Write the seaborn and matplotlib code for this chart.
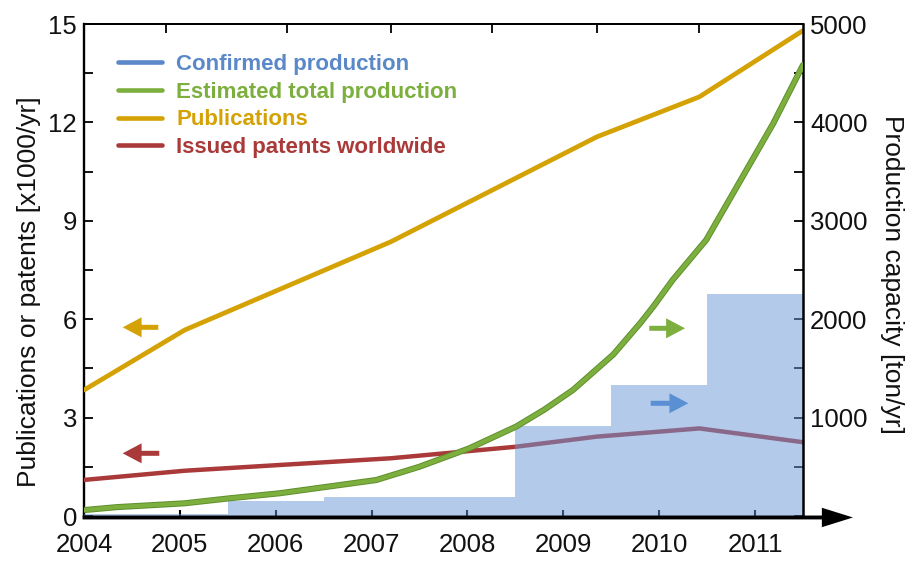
import matplotlib
matplotlib.use("Agg")
import matplotlib.pyplot as plt
import matplotlib.patheffects as pe
from matplotlib.lines import Line2D
from matplotlib.ticker import MultipleLocator
import seaborn as sns

# ---- data -------------------------------------------------------------
years = [2004, 2005, 2006, 2007, 2008, 2009, 2010, 2011]
year_labels = ["2004", "2005", "2006", "2007", "2008", "2009", "2010", "2011"]

# confirmed production capacity per year [ton/yr]
confirmed_production = [20, 25, 155, 196, 196, 915, 1331, 2256]

# estimated total production capacity [ton/yr]
production_years = [2004.01, 2004.34, 2005.05, 2005.52, 2006.04, 2006.67, 2007.05,
                    2007.50, 2008.02, 2008.51, 2008.80, 2009.10, 2009.52, 2009.80,
                    2009.94, 2010.14, 2010.49, 2010.84, 2011.19, 2011.50]
estimated_production = [61, 90, 129, 180, 231, 315, 366,
                        501, 688, 910, 1080, 1280, 1640, 1957,
                        2130, 2398, 2805, 3397, 3990, 4583]

# publications [x1000/yr]
publication_years = [2004.0, 2005.05, 2007.2, 2009.35, 2010.42, 2011.5]
publications = [3.84, 5.67, 8.36, 11.56, 12.78, 14.80]

# issued patents worldwide [x1000/yr]
patent_years = [2004.0, 2005.05, 2007.2, 2008.5, 2009.35, 2010.42, 2011.5]
patents = [1.10, 1.38, 1.76, 2.11, 2.42, 2.67, 2.25]

left_ticks = [0, 3, 6, 9, 12, 15]
right_ticks = [1000, 2000, 3000, 4000, 5000]
top_ticks = [2004.86, 2006.12, 2007.2, 2008.26, 2009.35, 2010.42]

series_labels = ["Confirmed production", "Estimated total production",
                 "Publications", "Issued patents worldwide"]

# ---- style ------------------------------------------------------------
BLUE = "#5a88c8"
BAR = "#6997d9"
GREEN = "#7daf3f"
GREEN_EDGE = "#5f8f2d"
GOLD = "#d4a204"
RED = "#aa3a3a"
INK = "#111111"

sns.set_theme(style="white")
plt.rcParams["font.family"] = ["Liberation Sans", "DejaVu Sans"]

fig = plt.figure(figsize=(9.05, 5.62), dpi=100)
fig.patch.set_facecolor("white")
ax = fig.add_axes([84 / 905, 1 - 516 / 562, 719 / 905, 492 / 562])
ax2 = ax.twinx()

# left axis: publications and patents
sns.lineplot(x=publication_years, y=publications, ax=ax, color=GOLD, lw=3.4,
             zorder=3, solid_joinstyle="round")
sns.lineplot(x=patent_years, y=patents, ax=ax, color=RED, lw=3.2, zorder=3,
             solid_joinstyle="round")

# right axis: production capacity
sns.histplot(x=years, weights=confirmed_production, discrete=True, ax=ax2,
             color=BAR, alpha=0.5, linewidth=0, zorder=1)
sns.lineplot(x=production_years, y=estimated_production, ax=ax2, color=GREEN,
             lw=3.0, zorder=3, solid_joinstyle="round",
             path_effects=[pe.Stroke(linewidth=4.4, foreground=GREEN_EDGE), pe.Normal()])

# ---- axes -------------------------------------------------------------
ax.set_xlim(2004, 2011.5)
ax.set_ylim(0, 15)
ax2.set_ylim(0, 5000)
ax.set_xticks(years, year_labels)
ax.set_yticks(left_ticks)
ax.yaxis.set_minor_locator(MultipleLocator(1.5))
ax2.set_yticks(right_ticks)
ax2.yaxis.set_minor_locator(MultipleLocator(500))
for a in (ax, ax2):
    a.set_xlabel("")
    a.set_ylabel("")
    a.grid(False)

ax.tick_params(axis="x", which="both", direction="in", length=4.5, width=1.5,
               bottom=True, top=False, color="black", labelsize=18.5,
               labelcolor=INK, pad=12)
ax.tick_params(axis="y", which="both", direction="in", length=6.5, width=1.3,
               left=True, right=False, color="black", labelsize=18.5,
               labelcolor=INK, pad=5)
ax2.tick_params(axis="y", which="both", direction="in", length=6.5, width=1.3,
                right=True, left=False, color="black", labelsize=18.5,
                labelcolor=INK, pad=5)

secax = ax.secondary_xaxis("top")
secax.set_xticks(top_ticks)
secax.tick_params(axis="x", direction="in", length=6.5, width=1.3, top=True,
                  labeltop=False, color="black")
secax.spines["top"].set_linewidth(1.3)
secax.spines["top"].set_color("black")

for name in ("bottom", "right"):
    ax.spines[name].set_visible(False)
for name in ("left", "top", "bottom"):
    ax2.spines[name].set_visible(False)
ax.spines["left"].set_linewidth(1.7)
ax.spines["left"].set_color("black")
ax.spines["top"].set_linewidth(1.3)
ax.spines["top"].set_color("black")
ax2.spines["right"].set_linewidth(1.8)
ax2.spines["right"].set_color("black")

# time axis drawn as a solid arrow
ax2.annotate("", xy=(1.0695, -0.003), xytext=(-0.002, -0.003), xycoords="axes fraction",
             arrowprops=dict(arrowstyle="simple,head_length=1.12,head_width=0.7,tail_width=0.14",
                             lw=0, color="black", shrinkA=0, shrinkB=0,
                             mutation_scale=20),
             annotation_clip=False, zorder=6)

# arrows pointing each series to its axis
pointer = "simple,head_length=0.68,head_width=0.72,tail_width=0.18"
for tail, tip, col in [((0.1033, 0.3835), (0.0538, 0.3835), GOLD),
                       ((0.1047, 0.1274), (0.0538, 0.1274), RED),
                       ((0.7862, 0.3815), (0.8359, 0.3815), GREEN),
                       ((0.7882, 0.2291), (0.8405, 0.2291), "#5a8fd4")]:
    ax2.annotate("", xy=tip, xytext=tail, xycoords="axes fraction",
                 arrowprops=dict(arrowstyle=pointer, color=col, lw=0, shrinkA=0,
                                 shrinkB=0, mutation_scale=20),
                 zorder=7)

# legend
handles = [Line2D([0], [0], color=c, lw=3.3, label=l)
           for c, l in zip([BLUE, GREEN, GOLD, RED], series_labels)]
ax.legend(handles=handles, loc="upper left",
          bbox_to_anchor=((118 - 84) / 719, (516 - 54) / 492),
          frameon=False, prop={"weight": "bold", "size": 16},
          labelcolor="linecolor", handlelength=2.0, handletextpad=0.62,
          labelspacing=0.3, borderpad=0, borderaxespad=0)

# axis titles
fig.text(29 / 905, 1 - 292 / 562, "Publications or patents [x1000/yr]",
         rotation=90, ha="center", va="center", fontsize=19, color=INK)
fig.text(892 / 905, 1 - 274 / 562, "Production capacity [ton/yr]",
         rotation=270, ha="center", va="center", fontsize=19, color=INK)

fig.savefig("out.png", dpi=100)
